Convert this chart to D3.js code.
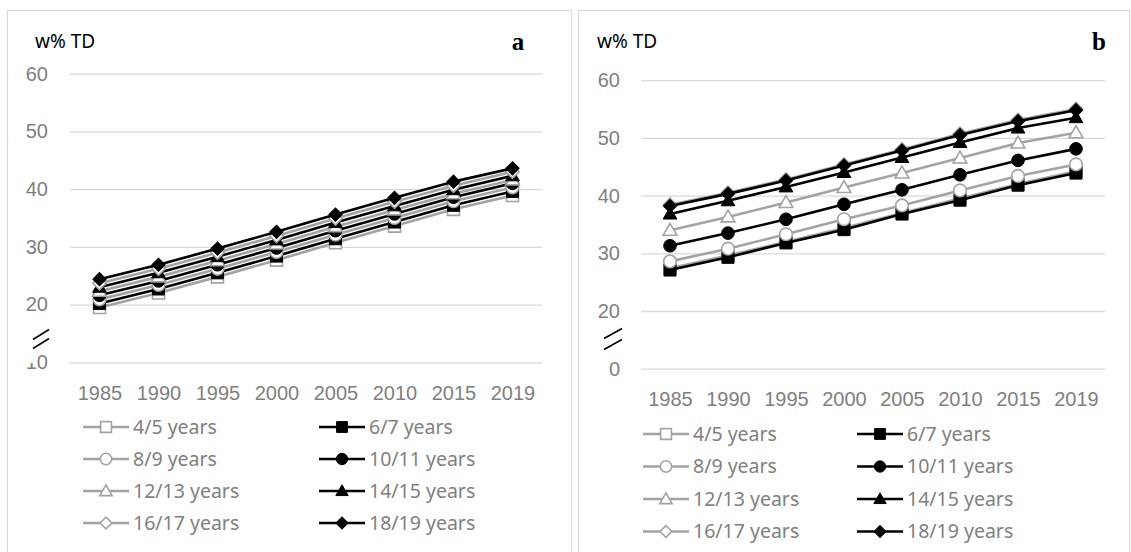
<!DOCTYPE html>
<html>
<head>
<meta charset="utf-8">
<script src="https://cdn.jsdelivr.net/npm/d3@7"></script>
<style>
  body { margin: 0; background: #fff; }
  svg { display: block; font-family: "Noto Sans", sans-serif; }
</style>
</head>
<body>
<div id="grafico"></div>
<script>
// datos
var years = ["1985", "1990", "1995", "2000", "2005", "2010", "2015", "2019"];
var series = ["4/5 years", "6/7 years", "8/9 years", "10/11 years",
              "12/13 years", "14/15 years", "16/17 years", "18/19 years"];
var yTicks = [10, 20, 30, 40, 50, 60];

// panel a
var valuesA = [
  [19.5, 22.0, 24.8, 27.7, 30.7, 33.6, 36.5, 38.9],
  [20.2, 22.7, 25.5, 28.4, 31.4, 34.3, 37.2, 39.6],
  [20.9, 23.4, 26.2, 29.1, 32.1, 35.0, 37.9, 40.3],
  [21.6, 24.1, 26.9, 29.8, 32.8, 35.7, 38.6, 41.0],
  [22.3, 24.8, 27.6, 30.5, 33.5, 36.4, 39.2, 41.6],
  [23.0, 25.5, 28.3, 31.2, 34.2, 37.1, 39.9, 42.3],
  [23.7, 26.2, 29.0, 31.9, 34.9, 37.8, 40.6, 43.0],
  [24.4, 26.9, 29.7, 32.6, 35.6, 38.5, 41.3, 43.6]
];

// panel b
var valuesB = [
  [27.4, 29.6, 32.0, 34.4, 37.0, 39.5, 42.0, 44.2],
  [27.1, 29.3, 31.8, 34.1, 36.8, 39.2, 41.8, 43.9],
  [28.6, 30.8, 33.3, 35.9, 38.3, 40.9, 43.4, 45.4],
  [31.3, 33.5, 35.9, 38.5, 41.0, 43.6, 46.1, 48.1],
  [34.0, 36.3, 38.8, 41.4, 43.9, 46.5, 49.1, 50.9],
  [36.8, 39.1, 41.5, 44.0, 46.6, 49.2, 51.7, 53.5],
  [38.4, 40.5, 42.8, 45.4, 48.0, 50.7, 53.1, 55.0],
  [38.2, 40.3, 42.6, 45.2, 47.8, 50.5, 52.9, 54.8]
];

// estilo de cada serie
var gris = "#a3a3a3";
var estilos = [
  { forma: "square", relleno: false },
  { forma: "square", relleno: true },
  { forma: "circle", relleno: false },
  { forma: "circle", relleno: true },
  { forma: "triangle", relleno: false },
  { forma: "triangle", relleno: true },
  { forma: "diamond", relleno: false },
  { forma: "diamond", relleno: true }
];

var width = 1131;
var height = 552;

var svg = d3.select("#grafico")
    .append("svg")
    .attr("width", width)
    .attr("height", height);

function marcador(g, forma, relleno, escala) {
    var sym;
    var color = relleno ? "#000" : gris;
    escala = escala || 1;
    if (forma === "square") {
        sym = g.append("path").attr("d", d3.symbol(d3.symbolSquare, 144 * escala * escala)());
    } else if (forma === "circle") {
        sym = g.append("path").attr("d", d3.symbol(d3.symbolCircle, 125 * escala * escala)());
    } else if (forma === "triangle") {
        sym = g.append("path").attr("d", d3.symbol(d3.symbolTriangle, 82 * escala * escala)())
            .attr("transform", "translate(0,1)");
    } else {
        sym = g.append("path").attr("d", d3.symbol(d3.symbolSquare, 88 * escala * escala)())
            .attr("transform", "rotate(45)");
    }
    sym.attr("fill", relleno ? "#000" : "#fff")
        .attr("stroke", color)
        .attr("stroke-width", relleno ? 1 : 1.6);
}

function dibujarPanel(cfg) {
    var g = svg.append("g");

    // marco
    g.append("rect")
        .attr("x", cfg.marco[0]).attr("y", cfg.marco[1])
        .attr("width", cfg.marco[2]).attr("height", 600)
        .attr("fill", "none").attr("stroke", "#d9d9d9").attr("stroke-width", 1.2);

    var x = d3.scalePoint().domain(years).range([cfg.x0, cfg.x1]).padding(0.5);
    var y = d3.scaleLinear().domain([10, 60]).range([cfg.y0, cfg.y1]);

    // eje y con lineas de cuadricula
    var ejeY = g.append("g")
        .attr("transform", "translate(" + cfg.x0 + ",0)")
        .call(d3.axisLeft(y).tickValues(yTicks)
            .tickSize(-(cfg.x1 - cfg.x0))
            .tickPadding(cfg.pad)
            .tickFormat(cfg.formato));
    ejeY.select(".domain").remove();
    ejeY.selectAll(".tick line").attr("stroke", "#d9d9d9").attr("stroke-width", 1.3);
    ejeY.selectAll(".tick text").attr("fill", "#7f7f7f").attr("font-size", 20);

    // eje x
    var ejeX = g.append("g")
        .attr("transform", "translate(0," + (cfg.y0 + 23) + ")")
        .call(d3.axisBottom(x).tickSize(0).tickPadding(0));
    ejeX.select(".domain").remove();
    ejeX.selectAll(".tick text").attr("fill", "#7f7f7f").attr("font-size", 20)
        .attr("dy", "0.71em");

    // mascara parcial sobre la etiqueta inferior
    if (cfg.mascara) {
        g.append("rect")
            .attr("x", cfg.mascara[0]).attr("y", cfg.mascara[1])
            .attr("width", cfg.mascara[2]).attr("height", cfg.mascara[3])
            .attr("fill", "#fff");
    }

    // simbolo de corte del eje
    cfg.corte.forEach(function(c) {
        g.append("line")
            .attr("x1", cfg.corteX[0]).attr("y1", c + 5)
            .attr("x2", cfg.corteX[1]).attr("y2", c - 5)
            .attr("stroke", "#000").attr("stroke-width", 1.6);
    });

    // titulo y letra
    g.append("text").attr("x", cfg.titulo[0]).attr("y", cfg.titulo[1])
        .attr("font-size", 19).attr("fill", "#000").text("w% TD");
    g.append("text").attr("x", cfg.letra[0]).attr("y", cfg.letra[1])
        .attr("font-family", "'Liberation Serif', serif")
        .attr("font-weight", "bold").attr("font-size", 25)
        .attr("text-anchor", "middle").attr("fill", "#000").text(cfg.nombre);

    // lineas
    var linea = d3.line()
        .x(function(d, i) { return x(years[i]); })
        .y(function(d) { return y(d); });

    cfg.valores.forEach(function(serie, s) {
        var est = estilos[s];
        var sg = g.append("g");
        sg.append("path")
            .attr("d", linea(serie))
            .attr("fill", "none")
            .attr("stroke", est.relleno ? "#000" : gris)
            .attr("stroke-width", 2.6)
            .attr("stroke-linejoin", "round");
        serie.forEach(function(v, i) {
            var mg = sg.append("g")
                .attr("transform", "translate(" + x(years[i]) + "," + y(v) + ")");
            marcador(mg, est.forma, est.relleno);
        });
    });

    // leyenda
    series.forEach(function(nombre, s) {
        var est = estilos[s];
        var col = s % 2;
        var fila = Math.floor(s / 2);
        var lx = cfg.leyendaX[col];
        var ly = cfg.leyendaY + fila * cfg.leyendaPaso;
        var lg = g.append("g").attr("transform", "translate(" + lx + "," + ly + ")");
        lg.append("line")
            .attr("x1", 0).attr("x2", 46).attr("y1", 0).attr("y2", 0)
            .attr("stroke", est.relleno ? "#000" : gris).attr("stroke-width", 2.6);
        var mg = lg.append("g").attr("transform", "translate(23,0)");
        marcador(mg, est.forma, est.relleno, 0.9);
        lg.append("text")
            .attr("x", 50).attr("y", 0).attr("dy", "0.35em")
            .attr("font-size", 19.5).attr("fill", "#7f7f7f")
            .text(nombre);
    });
}

dibujarPanel({
    nombre: "a",
    valores: valuesA,
    marco: [7.5, 10.5, 564],
    x0: 70, x1: 542,
    y0: 362.3, y1: 73.7,
    pad: 22,
    formato: function(d) { return d; },
    mascara: [18, 350, 19, 13],
    corte: [334.5, 343.5],
    corteX: [33, 49],
    titulo: [35, 48],
    letra: [518, 50],
    leyendaX: [83, 319],
    leyendaY: 427,
    leyendaPaso: 32
});

dibujarPanel({
    nombre: "b",
    valores: valuesB,
    marco: [578.5, 10.5, 551],
    x0: 641, x1: 1105,
    y0: 368.7, y1: 80.2,
    pad: 21,
    formato: function(d) { return d === 10 ? "0" : d; },
    mascara: null,
    corte: [333.5, 344.5],
    corteX: [604, 622],
    titulo: [597, 48],
    letra: [1099, 50],
    leyendaX: [643, 857],
    leyendaY: 434,
    leyendaPaso: 32.5
});
</script>
</body>
</html>
